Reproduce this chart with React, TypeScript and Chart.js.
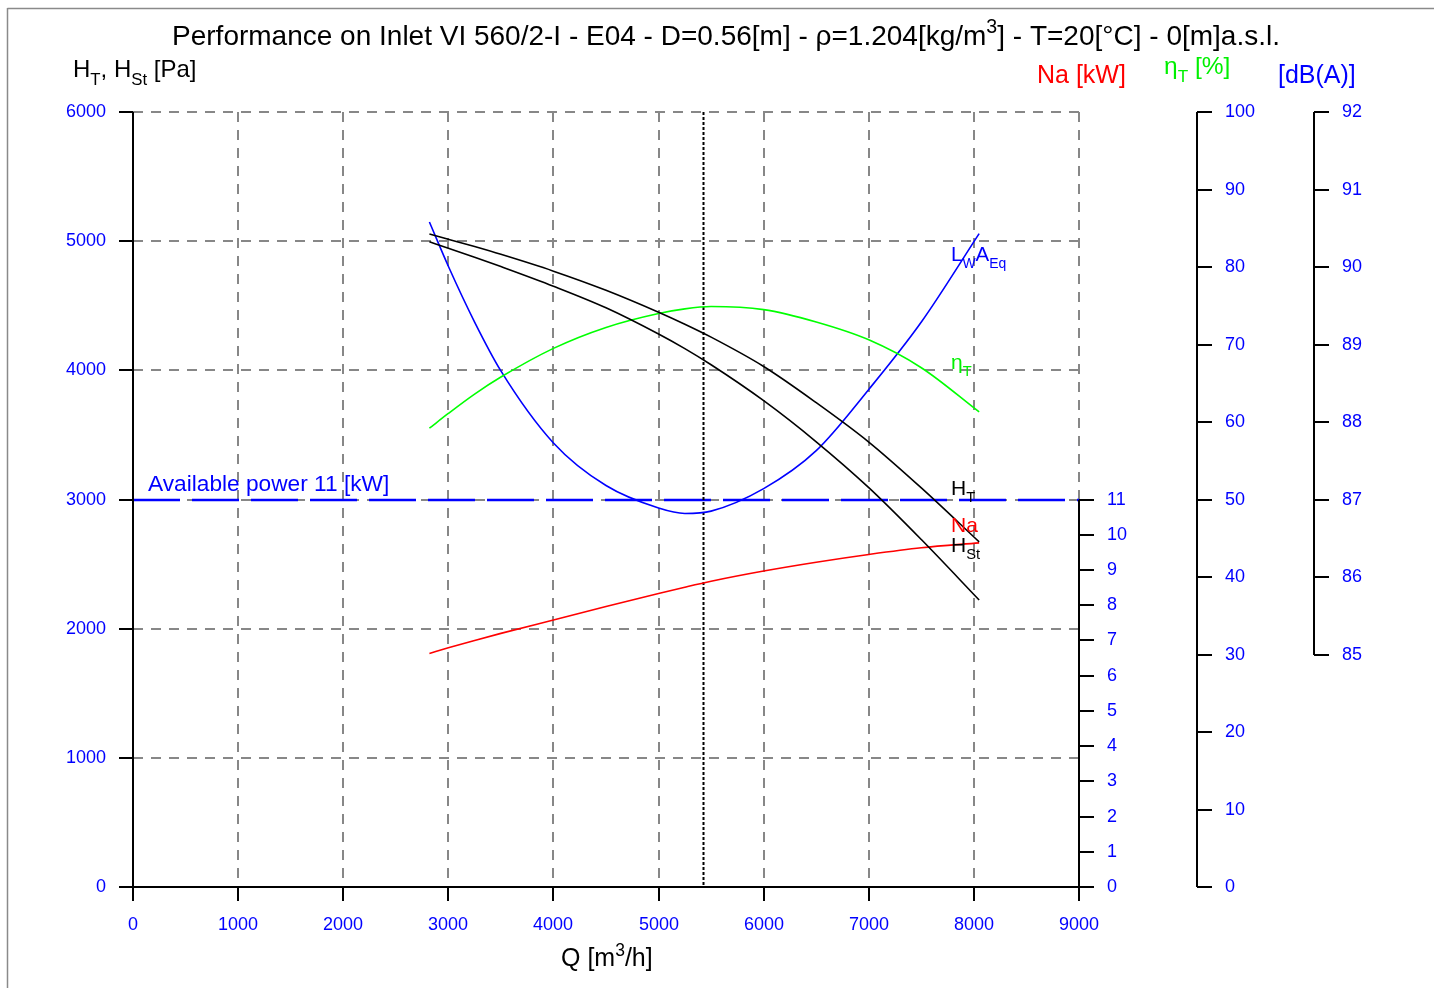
import React, { useEffect, useRef } from 'react';
import { Chart, registerables } from 'chart.js';

Chart.register(...registerables);

// ---------- data ----------
const Q = [2820, 3000, 3250, 3500, 4000, 4500, 5000, 5250, 5500, 6000, 6500, 7000, 7500, 8050];
const H_T = [5055, 5015, 4958, 4898, 4768, 4620, 4450, 4357, 4257, 4030, 3750, 3445, 3090, 2672];
const H_ST = [4995, 4946, 4876, 4803, 4651, 4484, 4281, 4168, 4043, 3765, 3447, 3092, 2690, 2222];
const ETA_T = [59.2, 61.1, 63.6, 65.8, 69.5, 72.2, 74.0, 74.6, 74.9, 74.5, 72.9, 70.6, 67.0, 61.3];
const NA = [6.63, 6.79, 7.0, 7.2, 7.58, 7.96, 8.33, 8.51, 8.68, 8.97, 9.22, 9.44, 9.63, 9.77];
const LWA = [90.58, 90.01, 89.29, 88.66, 87.73, 87.18, 86.89, 86.82, 86.85, 87.14, 87.63, 88.42, 89.29, 90.43];

const Q_TICKS = [0, 1000, 2000, 3000, 4000, 5000, 6000, 7000, 8000, 9000];
const P_TICKS = [0, 1000, 2000, 3000, 4000, 5000, 6000];
const NA_TICKS = [0, 1, 2, 3, 4, 5, 6, 7, 8, 9, 10, 11];
const ETA_TICKS = [0, 10, 20, 30, 40, 50, 60, 70, 80, 90, 100];
const DB_TICKS = [85, 86, 87, 88, 89, 90, 91, 92];

const OPERATING_Q = 5420;
const AVAILABLE_POWER = 11;

const FONT = '"Liberation Sans", Arial, Helvetica, sans-serif';
const BLUE = '#0000ff';
const RED = '#ff0000';
const GREEN = '#00f000';

type Part = { t: string; s?: 'sub' | 'sup' };

function rich(
  ctx: CanvasRenderingContext2D,
  x: number,
  y: number,
  parts: Part[],
  size: number,
  color: string,
  align: 'left' | 'center' = 'left',
  subRatio = 0.7
) {
  ctx.save();
  ctx.fillStyle = color;
  ctx.textBaseline = 'alphabetic';
  ctx.textAlign = 'left';
  const widths = parts.map((p) => {
    ctx.font = `${p.s ? size * subRatio : size}px ${FONT}`;
    return ctx.measureText(p.t).width;
  });
  const total = widths.reduce((a, b) => a + b, 0);
  let cx = align === 'center' ? x - total / 2 : x;
  parts.forEach((p, i) => {
    ctx.font = `${p.s ? size * subRatio : size}px ${FONT}`;
    const dy = p.s === 'sub' ? size * 0.33 : p.s === 'sup' ? -size * 0.42 : 0;
    ctx.fillText(p.t, cx, y + dy);
    cx += widths[i];
  });
  ctx.restore();
}

function seg(ctx: CanvasRenderingContext2D, x1: number, y1: number, x2: number, y2: number) {
  ctx.beginPath();
  ctx.moveTo(x1, y1);
  ctx.lineTo(x2, y2);
  ctx.stroke();
}

const decor = {
  id: 'decor',
  beforeDatasetsDraw(chart: any) {
    const ctx: CanvasRenderingContext2D = chart.ctx;
    const { x, y, yNa } = chart.scales;
    ctx.save();
    // grid
    ctx.strokeStyle = '#878787';
    ctx.lineWidth = 2;
    ctx.setLineDash([10, 8]);
    P_TICKS.forEach((p) => {
      if (p === 0) return;
      const py = Math.round(y.getPixelForValue(p));
      seg(ctx, x.left, py, x.right, py);
    });
    Q_TICKS.forEach((q) => {
      if (q === 0) return;
      const px = Math.round(x.getPixelForValue(q));
      seg(ctx, px, y.top, px, q === 9000 ? yNa.getPixelForValue(AVAILABLE_POWER) : y.bottom);
    });
    // available power line
    const ay = Math.round(yNa.getPixelForValue(AVAILABLE_POWER));
    ctx.strokeStyle = BLUE;
    ctx.lineWidth = 2.5;
    ctx.setLineDash([47, 12]);
    seg(ctx, x.left, ay, x.right, ay);
    // operating point
    const ox = Math.round(x.getPixelForValue(OPERATING_Q)) + 0.5;
    ctx.strokeStyle = '#000';
    ctx.lineWidth = 2;
    ctx.setLineDash([3, 2]);
    seg(ctx, ox, y.top, ox, y.bottom);
    ctx.restore();
  },
  afterDatasetsDraw(chart: any) {
    const ctx: CanvasRenderingContext2D = chart.ctx;
    const { x, y, yNa, yEta, yDb } = chart.scales;
    ctx.save();
    ctx.setLineDash([]);
    ctx.strokeStyle = '#000';
    ctx.lineWidth = 2;
    const L = Math.round(x.left);
    const R = Math.round(x.right);
    const B = Math.round(y.bottom);
    const T = Math.round(y.top);
    // main axes
    seg(ctx, L, T, L, B + 14);
    seg(ctx, L - 14, B, R, B);
    ctx.font = `18px ${FONT}`;
    ctx.fillStyle = BLUE;
    // left ticks
    ctx.textAlign = 'right';
    ctx.textBaseline = 'middle';
    P_TICKS.forEach((p) => {
      const py = Math.round(y.getPixelForValue(p));
      seg(ctx, L - 14, py, L, py);
      ctx.fillText(String(p), L - 27, py);
    });
    // bottom ticks
    ctx.textAlign = 'center';
    ctx.textBaseline = 'top';
    Q_TICKS.forEach((q) => {
      const px = Math.round(x.getPixelForValue(q));
      seg(ctx, px, B, px, B + 14);
      ctx.fillText(String(q), px, B + 29);
    });
    // Na axis
    ctx.textAlign = 'left';
    ctx.textBaseline = 'middle';
    const naTop = Math.round(yNa.getPixelForValue(AVAILABLE_POWER));
    seg(ctx, R, naTop, R, B + 14);
    NA_TICKS.forEach((v) => {
      const py = Math.round(yNa.getPixelForValue(v));
      seg(ctx, R, py, R + 15, py);
      ctx.fillText(String(v), R + 28, py);
    });
    // efficiency axis
    const ex = Math.round(x.getPixelForValue(9000)) + 118;
    seg(ctx, ex, Math.round(yEta.getPixelForValue(100)), ex, Math.round(yEta.getPixelForValue(0)));
    ETA_TICKS.forEach((v) => {
      const py = Math.round(yEta.getPixelForValue(v));
      seg(ctx, ex, py, ex + 15, py);
      ctx.fillText(String(v), ex + 28, py);
    });
    // dB axis
    const dx = ex + 117;
    seg(ctx, dx, Math.round(yDb.getPixelForValue(92)), dx, Math.round(yDb.getPixelForValue(85)));
    DB_TICKS.forEach((v) => {
      const py = Math.round(yDb.getPixelForValue(v));
      seg(ctx, dx, py, dx + 15, py);
      ctx.fillText(String(v), dx + 28, py);
    });

    // titles
    rich(
      ctx,
      726,
      45,
      [
        { t: 'Performance on Inlet VI 560/2-I - E04 - D=0.56[m] - ρ=1.204[kg/m' },
        { t: '3', s: 'sup' },
        { t: '] - T=20[°C] - 0[m]a.s.l.' },
      ],
      28,
      '#000',
      'center'
    );
    rich(ctx, 73, 77, [{ t: 'H' }, { t: 'T', s: 'sub' }, { t: ', H' }, { t: 'St', s: 'sub' }, { t: ' [Pa]' }], 24, '#000');
    rich(ctx, 1037, 83, [{ t: 'Na [kW]' }], 25, RED);
    rich(ctx, 1164, 74, [{ t: 'η' }, { t: 'T', s: 'sub' }, { t: ' [%]' }], 24.5, GREEN);
    rich(ctx, 1278, 83, [{ t: '[dB(A)]' }], 25, BLUE);
    rich(ctx, 561, 966, [{ t: 'Q [m' }, { t: '3', s: 'sup' }, { t: '/h]' }], 25, '#000');
    rich(ctx, 148, 491, [{ t: 'Available power 11 [kW]' }], 22.7, BLUE);

    // curve labels
    rich(ctx, 951, 261, [{ t: 'L' }, { t: 'W', s: 'sub' }, { t: 'A' }, { t: 'Eq', s: 'sub' }], 20.5, BLUE, 'left', 0.68);
    rich(ctx, 951, 369, [{ t: 'η' }, { t: 'T', s: 'sub' }], 21, GREEN);
    rich(ctx, 951, 495, [{ t: 'H' }, { t: 'T', s: 'sub' }], 21, '#000');
    rich(ctx, 951, 532, [{ t: 'Na' }], 21, RED);
    rich(ctx, 951, 552, [{ t: 'H' }, { t: 'St', s: 'sub' }], 21, '#000');

    // outer frame
    ctx.strokeStyle = '#8a8a8a';
    ctx.lineWidth = 1.5;
    seg(ctx, 7.5, 8, 7.5, 988);
    seg(ctx, 7.5, 8.5, 1434, 8.5);
    ctx.restore();
  },
};

function pts(vals: number[]) {
  return Q.map((q, i) => ({ x: q, y: vals[i] }));
}

export default function App() {
  const ref = useRef<HTMLCanvasElement | null>(null);
  useEffect(() => {
    if (!ref.current) return;
    const line = (label: string, vals: number[], color: string, axis: string) => ({
      label,
      data: pts(vals),
      yAxisID: axis,
      borderColor: color,
      backgroundColor: color,
      borderWidth: 1.6,
      pointRadius: 0,
      fill: false,
      cubicInterpolationMode: 'monotone' as const,
    });
    const chart = new Chart(ref.current, {
      type: 'line',
      data: {
        datasets: [
          line('H_T', H_T, '#000000', 'y'),
          line('H_St', H_ST, '#000000', 'y'),
          line('η_T', ETA_T, '#00ff00', 'yEta'),
          line('Na', NA, RED, 'yNa'),
          line('LwAEq', LWA, BLUE, 'yDb'),
        ],
      },
      options: {
        animation: false,
        responsive: false,
        devicePixelRatio: 1,
        layout: { padding: { left: 133, right: 355, top: 112, bottom: 101 } },
        scales: {
          x: { type: 'linear', min: 0, max: 9000, display: false },
          y: { type: 'linear', min: 0, max: 6000, display: false },
          yNa: { type: 'linear', min: 0, max: 22, display: false },
          yEta: { type: 'linear', min: 0, max: 100, display: false },
          yDb: { type: 'linear', min: 82, max: 92, display: false },
        },
        plugins: { legend: { display: false }, tooltip: { enabled: false } },
      },
      plugins: [decor],
    });
    return () => chart.destroy();
  }, []);
  return (
    <div style={{ position: 'fixed', left: 0, top: 0, width: 1434, height: 988, background: '#fff' }}>
      <canvas ref={ref} width={1434} height={988} style={{ display: 'block' }} />
    </div>
  );
}
